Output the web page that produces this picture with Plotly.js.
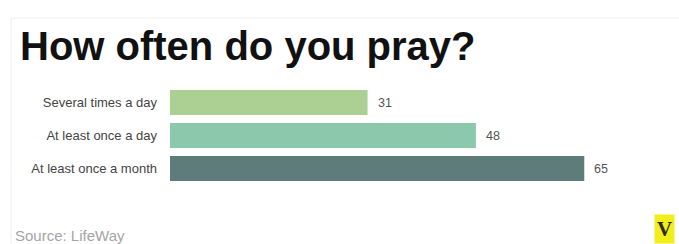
<!DOCTYPE html>
<html>
<head>
<meta charset="utf-8">
<script src="https://cdn.plot.ly/plotly-3.0.1.min.js"></script>
<style>
html,body{margin:0;padding:0;background:#fff;}
#chart{width:679px;height:244px;}
</style>
</head>
<body>
<div id="chart"></div>
<script>
var categories = ["Several times a day", "At least once a day", "At least once a month"];
var values = [31, 48, 65];
var barColors = ["#acd094", "#8cc8ac", "#5e7c7a"];
var titleText = "How often do you pray?";
var sourceText = "Source: LifeWay";

var W = 679, H = 244;
var L = 170, R = 31, T = 86, B = 59;
var pw = W - L - R, ph = H - T - B;
function px(x){ return (x - L) / pw; }
function py(y){ return (H - B - y) / ph; }

var trace = {
  type: "bar",
  orientation: "h",
  y: categories,
  x: values,
  marker: {color: barColors, line: {width: 0}},
  hoverinfo: "none"
};

var annotations = values.map(function(v, i){
  return {
    x: v, y: categories[i], xref: "x", yref: "y",
    text: String(v), showarrow: false,
    xanchor: "left", yanchor: "middle", xshift: 8,
    font: {family: "Liberation Sans, Arial, sans-serif", size: 12.5, color: "#555"}
  };
});
annotations.push({
  x: px(13), y: py(235), xref: "paper", yref: "paper",
  text: sourceText, showarrow: false, xanchor: "left", yanchor: "middle",
  font: {family: "Liberation Sans, Arial, sans-serif", size: 15, color: "#a4a4a4"}
});
annotations.push({
  x: px(664), y: py(229), xref: "paper", yref: "paper",
  text: "<b>V</b>", showarrow: false, xanchor: "center", yanchor: "middle",
  bgcolor: "#f2ee1a", borderpad: 2,
  font: {family: "Liberation Serif, serif", size: 21, color: "#2a2a10"}
});

var layout = {
  width: W, height: H,
  margin: {l: L, r: R, t: T, b: B, pad: 0},
  paper_bgcolor: "#ffffff",
  plot_bgcolor: "#ffffff",
  showlegend: false,
  bargap: 0.24,
  title: {
    text: titleText,
    x: 20 / W, xref: "container", xanchor: "left",
    y: 1 - 32 / H, yref: "container", yanchor: "top",
    font: {family: "Liberation Sans, Arial, sans-serif", size: 40, color: "#111", weight: "bold"}
  },
  xaxis: {
    range: [0, 75], visible: false, fixedrange: true
  },
  yaxis: {
    autorange: "reversed", showgrid: false, zeroline: false, showline: false,
    ticks: "", ticklabelstandoff: 12,
    tickfont: {family: "Liberation Sans, Arial, sans-serif", size: 13, color: "#444"}
  },
  shapes: [{
    type: "rect", xref: "paper", yref: "paper",
    x0: px(11), x1: px(700), y0: py(260), y1: py(18),
    line: {color: "#eeeeee", width: 1}, fillcolor: "rgba(0,0,0,0)", layer: "below"
  }],
  annotations: annotations
};

Plotly.newPlot("chart", [trace], layout, {displayModeBar: false, staticPlot: true});
</script>
</body>
</html>
